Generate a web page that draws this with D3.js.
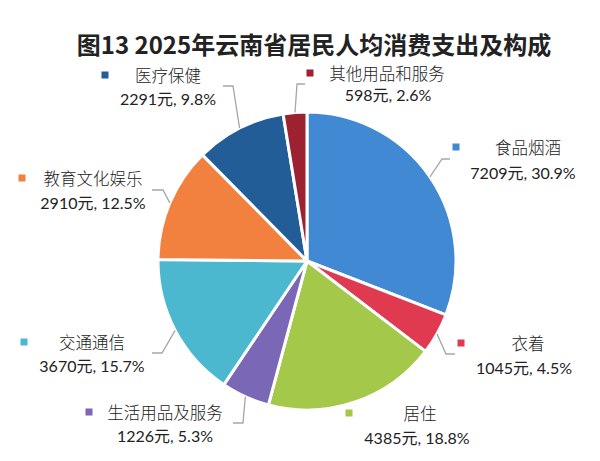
<!DOCTYPE html>
<html>
<head>
<meta charset="utf-8">
<script src="https://cdn.jsdelivr.net/npm/d3@7/dist/d3.min.js"></script>
<style>
  body { margin: 0; background: #fff; }
  text { font-family: "Noto Sans CJK SC", "Noto Sans", sans-serif; fill: #222; }
  .val { font-family: Lato, "Noto Sans CJK SC", sans-serif; }
</style>
</head>
<body>
<div id="chart"></div>
<script>
var categories = ["食品烟酒", "衣着", "居住", "生活用品及服务", "交通通信", "教育文化娱乐", "医疗保健", "其他用品和服务"];
var values = [7209, 1045, 4385, 1226, 3670, 2910, 2291, 598];
var shares = ["30.9%", "4.5%", "18.8%", "5.3%", "15.7%", "12.5%", "9.8%", "2.6%"];
var colors = ["#4189d3", "#df3a50", "#a3c84a", "#7a68b7", "#4bb8cf", "#f2803e", "#235d97", "#9c2232"];

// label layout: name centre x/y, value centre x/y, marker x
var labelPos = [
  [528, 147, 523, 172, 456],
  [528, 343, 524, 367, 461],
  [420, 413, 417, 437, 349],
  [165, 412, 165, 435, 89],
  [92, 342, 92, 365, 24],
  [93, 178, 93, 202, 22],
  [168, 75, 168, 98, 105],
  [387, 73, 388, 94, 310]
];
// leader lines: end point x, y and elbow x (null = no leader)
var leaders = [
  [450, 159, 442],
  [455, 354, 446],
  null,
  [233, 423, 243],
  [152, 353, 162],
  [152, 190, 163],
  [223, 86, 233],
  [305, 84, 297]
];

var width = 600, height = 461;
var cx = 307, cy = 261, radius = 149;

var svg = d3.select("#chart").append("svg")
  .attr("width", width)
  .attr("height", height);

svg.append("text")
  .attr("x", 314)
  .attr("y", 43)
  .attr("text-anchor", "middle")
  .attr("dominant-baseline", "central")
  .style("font-size", "24px")
  .style("font-weight", "bold")
  .text("图13  2025年云南省居民人均消费支出及构成");

var data = categories.map(function(c, i) {
  return { name: c, value: values[i], share: shares[i], color: colors[i], i: i };
});

var pie = d3.pie().sort(null).value(function(d) { return d.value; });
var arc = d3.arc().innerRadius(0).outerRadius(radius);
var edgeArc = d3.arc().innerRadius(radius).outerRadius(radius);

var arcs = pie(data);

var g = svg.append("g").attr("transform", "translate(" + cx + "," + cy + ")");

g.selectAll("path.slice")
  .data(arcs)
  .enter().append("path")
  .attr("class", "slice")
  .attr("d", arc)
  .attr("fill", function(d) { return d.data.color; })
  .attr("stroke", "#fff")
  .attr("stroke-width", 3)
  .attr("stroke-linejoin", "round");

// leader lines
svg.selectAll("path.leader")
  .data(arcs.filter(function(d) { return leaders[d.data.i]; }))
  .enter().append("path")
  .attr("class", "leader")
  .attr("fill", "none")
  .attr("stroke", "#a6a6a6")
  .attr("stroke-width", 1.3)
  .attr("d", function(d) {
    var p = edgeArc.centroid(d);
    var l = leaders[d.data.i];
    return "M" + (cx + p[0]) + "," + (cy + p[1]) + "L" + l[2] + "," + l[1] + "L" + l[0] + "," + l[1];
  });

var labels = svg.selectAll("g.label")
  .data(data)
  .enter().append("g")
  .attr("class", "label");

labels.append("rect")
  .attr("x", function(d) { return labelPos[d.i][4] - 3.5; })
  .attr("y", function(d) { return labelPos[d.i][1] - 3.5; })
  .attr("width", 7)
  .attr("height", 7)
  .attr("fill", function(d) { return d.color; });

labels.append("text")
  .attr("x", function(d) { return labelPos[d.i][0]; })
  .attr("y", function(d) { return labelPos[d.i][1]; })
  .attr("text-anchor", "middle")
  .attr("dominant-baseline", "central")
  .style("font-size", "16.5px")
  .style("font-weight", 300)
  .text(function(d) { return d.name; });

labels.append("text")
  .attr("class", "val")
  .attr("x", function(d) { return labelPos[d.i][2]; })
  .attr("y", function(d) { return labelPos[d.i][3]; })
  .attr("text-anchor", "middle")
  .attr("dominant-baseline", "central")
  .style("font-size", "16px")
  .text(function(d) { return d.value + "元, " + d.share; });
</script>
</body>
</html>
